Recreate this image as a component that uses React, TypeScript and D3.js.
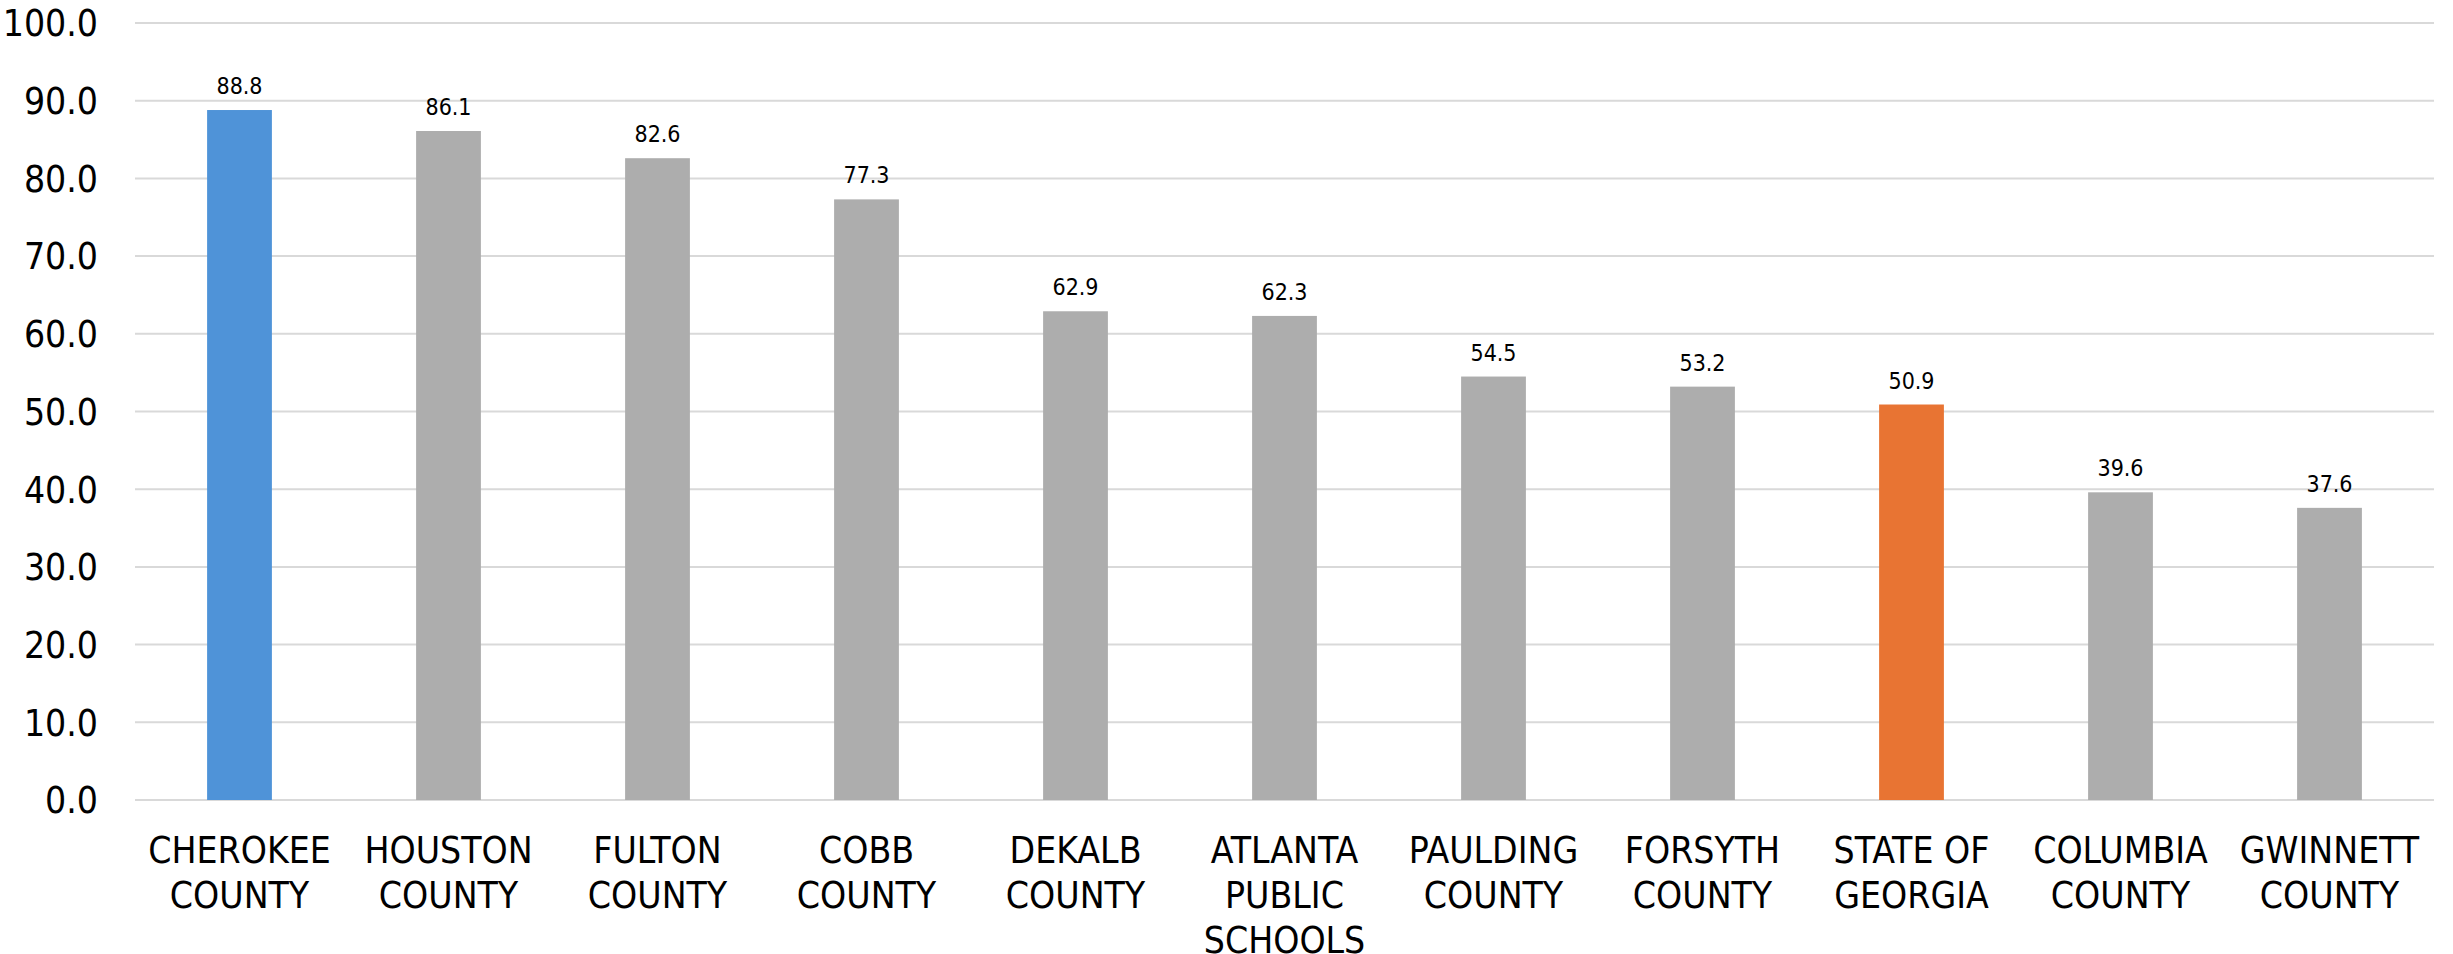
import React, { useEffect, useRef } from 'react';
import * as d3 from 'd3';

const categories = [
  'CHEROKEE\nCOUNTY',
  'HOUSTON\nCOUNTY',
  'FULTON\nCOUNTY',
  'COBB\nCOUNTY',
  'DEKALB\nCOUNTY',
  'ATLANTA\nPUBLIC\nSCHOOLS',
  'PAULDING\nCOUNTY',
  'FORSYTH\nCOUNTY',
  'STATE OF\nGEORGIA',
  'COLUMBIA\nCOUNTY',
  'GWINNETT\nCOUNTY',
];
const values = [88.8, 86.1, 82.6, 77.3, 62.9, 62.3, 54.5, 53.2, 50.9, 39.6, 37.6];
const yTicks = [0, 10, 20, 30, 40, 50, 60, 70, 80, 90, 100];
const highlight: Record<string, string> = {
  'CHEROKEE\nCOUNTY': '#4f93d8',
  'STATE OF\nGEORGIA': '#e87433',
};

const FONT = '"Liberation Sans Narrow", "DejaVu Sans Condensed", "Arial Narrow", sans-serif';

const App: React.FC = () => {
  const svgRef = useRef<SVGSVGElement>(null);

  useEffect(() => {
    if (!svgRef.current) return;
    document.body.style.margin = '0';

    const width = 2453;
    const height = 954;
    const plot = { left: 135, right: 2434, top: 23, bottom: 800 };

    const svg = d3.select(svgRef.current);
    svg.selectAll('*').remove();

    const x = d3.scaleBand<string>()
      .domain(categories)
      .range([plot.left, plot.right])
      .paddingInner(0.69)
      .paddingOuter(0.345);

    const y = d3.scaleLinear().domain([0, 100]).range([plot.bottom, plot.top]);

    svg.attr('width', width).attr('height', height);
    svg.append('rect').attr('width', width).attr('height', height).attr('fill', 'white');

    // Gridlines
    svg.append('g')
      .selectAll('line')
      .data(yTicks)
      .enter().append('line')
      .attr('x1', plot.left)
      .attr('x2', plot.right)
      .attr('y1', d => y(d))
      .attr('y2', d => y(d))
      .attr('stroke', '#d9d9d9')
      .attr('stroke-width', 2);

    // Y tick labels
    svg.append('g')
      .selectAll('text')
      .data(yTicks)
      .enter().append('text')
      .attr('x', 98)
      .attr('y', d => y(d))
      .attr('dy', '0.36em')
      .attr('text-anchor', 'end')
      .attr('font-family', FONT)
      .attr('font-size', '37px')
      .attr('fill', '#000')
      .text(d => d.toFixed(1));

    // Bars
    svg.append('g')
      .selectAll('rect')
      .data(categories)
      .enter().append('rect')
      .attr('x', d => x(d)!)
      .attr('y', (d, i) => y(values[i]))
      .attr('width', x.bandwidth())
      .attr('height', (d, i) => y(0) - y(values[i]))
      .attr('fill', d => highlight[d] || '#adadad');

    // Value labels
    svg.append('g')
      .selectAll('text')
      .data(categories)
      .enter().append('text')
      .attr('x', d => x(d)! + x.bandwidth() / 2)
      .attr('y', (d, i) => y(values[i]) - 16)
      .attr('text-anchor', 'middle')
      .attr('font-family', FONT)
      .attr('font-size', '23px')
      .attr('fill', '#000')
      .text((d, i) => values[i].toFixed(1));

    // Category labels
    const cat = svg.append('g')
      .selectAll('text')
      .data(categories)
      .enter().append('text')
      .attr('x', d => x(d)! + x.bandwidth() / 2)
      .attr('y', 863)
      .attr('text-anchor', 'middle')
      .attr('font-family', FONT)
      .attr('font-size', '37px')
      .attr('fill', '#000');

    cat.selectAll('tspan')
      .data(d => d.split('\n'))
      .enter().append('tspan')
      .attr('x', function () {
        return (this.parentNode as SVGTextElement).getAttribute('x');
      })
      .attr('dy', (d, i) => (i === 0 ? 0 : 45))
      .text(d => d);
  }, []);

  return (
    <svg
      ref={svgRef}
      style={{ position: 'absolute', left: 0, top: 0, display: 'block' }}
    />
  );
};

export default App;
